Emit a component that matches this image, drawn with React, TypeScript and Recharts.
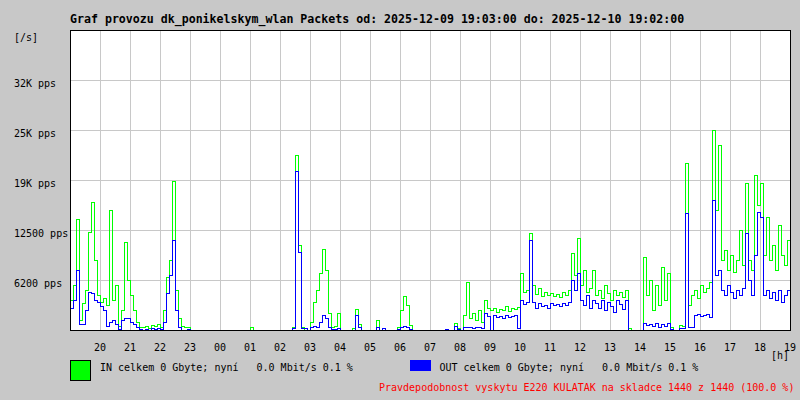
import React from 'react';
import { LineChart, Line, XAxis, YAxis, CartesianGrid, ReferenceArea } from 'recharts';

const TITLE = 'Graf provozu dk_ponikelskym_wlan Packets od: 2025-12-09 19:03:00 do: 2025-12-10 19:02:00';
const Y_UNIT = '[/s]';
const X_UNIT = '[h]';
const LEGEND_IN = 'IN celkem 0 Gbyte; nyní   0.0 Mbit/s 0.1 %';
const LEGEND_OUT = 'OUT celkem 0 Gbyte; nyní   0.0 Mbit/s 0.1 %';
const FOOTNOTE = 'Pravdepodobnost vyskytu E220 KULATAK na skladce 1440 z 1440 (100.0 %)';

const HOUR_LABELS = ['20', '21', '22', '23', '00', '01', '02', '03', '04', '05', '06', '07', '08', '09', '10', '11', '12', '13', '14', '15', '16', '17', '18', '19'];
const HOUR_TICKS = HOUR_LABELS.map((_, i) => (i + 1) * 60);
const Y_TICKS = [6250, 12500, 18750, 25000, 31250];
const Y_LABELS = ['6200 pps', '12500 pps', '19K pps', '25K pps', '32K pps'];
const Y_MAX = 37500;
const STEP_MIN = 6;

// packets per second, one sample every 6 minutes from 19:00
const IN_PPS = [
  3750, 5625, 13875, 1250, 3375, 5000, 12250, 16000, 8750, 4375,
  3500, 4000, 3125, 15000, 3750, 5625, 500, 2500, 11000, 6250,
  4375, 2500, 1000, 375, 375, 500, 250, 625, 500, 750,
  375, 2500, 6625, 8750, 18625, 5000, 1500, 500, 375, 375,
  0, 0, 0, 0, 0, 0, 0, 0, 0, 0,
  0, 0, 0, 0, 0, 0, 0, 0, 0, 0,
  375, 0, 0, 0, 0, 0, 0, 0, 0, 0,
  0, 0, 0, 0, 375, 21875, 10625, 375, 0, 0,
  1000, 3500, 5000, 7125, 10125, 7500, 2125, 375, 500, 2125,
  0, 0, 0, 0, 250, 2625, 750, 0, 0, 0,
  0, 0, 1250, 0, 0, 0, 0, 0, 0, 375,
  2500, 4250, 3125, 625, 0, 0, 0, 0, 0, 0,
  0, 0, 0, 0, 0, 125, 0, 0, 875, 250,
  0, 1875, 6000, 1500, 2125, 1250, 2500, 1000, 3750, 2750,
  2500, 2750, 2250, 2625, 2500, 3000, 2375, 2750, 2625, 2875,
  7125, 4750, 5000, 12125, 5625, 4500, 5250, 4250, 4750, 4375,
  4625, 4250, 4500, 4125, 4750, 4375, 5000, 9625, 6875, 11500,
  5625, 7500, 4750, 5250, 7500, 4375, 5000, 4000, 5625, 4625,
  3750, 5000, 4375, 4750, 4125, 5000, 250, 0, 0, 0,
  0, 9125, 4375, 6250, 2500, 5625, 3125, 7875, 3750, 7125,
  375, 0, 0, 625, 500, 20875, 3125, 4375, 5000, 4000,
  5625, 4750, 5250, 6000, 25000, 15000, 23125, 8750, 10000, 7500,
  9375, 7250, 8750, 12500, 8125, 18375, 8750, 7500, 19375, 15625,
  18375, 9375, 14125, 8750, 10625, 7500, 13125, 9375, 8125, 11250,
  10625,
];

const OUT_PPS = [
  2750, 3750, 7500, 750, 750, 2500, 4750, 4625, 3750, 3500,
  3000, 2500, 500, 1000, 1250, 750, 125, 1250, 1500, 1500,
  1000, 750, 375, 125, 0, 125, 0, 250, 125, 250,
  125, 1000, 4625, 6875, 11250, 2500, 375, 0, 0, 125,
  0, 0, 0, 0, 0, 0, 0, 0, 0, 0,
  0, 0, 0, 0, 0, 0, 0, 0, 0, 0,
  0, 0, 0, 0, 0, 0, 0, 0, 0, 0,
  0, 0, 0, 0, 250, 19875, 9750, 250, 250, 0,
  375, 500, 375, 1000, 1875, 1500, 375, 125, 125, 250,
  0, 0, 0, 0, 0, 1875, 375, 0, 0, 0,
  0, 0, 375, 0, 250, 0, 0, 0, 0, 125,
  375, 500, 375, 125, 0, 0, 0, 0, 0, 0,
  0, 0, 0, 0, 0, 125, 0, 0, 500, 125,
  0, 375, 375, 375, 250, 375, 375, 250, 2125, 1750,
  0, 1875, 1625, 1750, 1500, 1875, 1625, 1750, 1875, 250,
  3750, 3250, 3500, 11250, 3500, 2750, 3375, 3000, 3125, 2750,
  3375, 3125, 3250, 3000, 3375, 3125, 3500, 6250, 5000, 7125,
  3750, 3125, 4375, 2750, 3750, 3375, 2750, 3750, 2500, 3500,
  3000, 2250, 3750, 3250, 2625, 3750, 0, 0, 0, 0,
  0, 875, 625, 750, 500, 875, 375, 750, 500, 875,
  125, 0, 0, 250, 250, 14625, 375, 375, 1875, 2000,
  1750, 1875, 2000, 1625, 16250, 6875, 7500, 5000, 4375, 5625,
  4750, 4000, 5000, 4375, 5250, 12125, 6250, 4375, 9375, 14750,
  14125, 4375, 5000, 4000, 4750, 3750, 5000, 3500, 4375, 5000,
  5250,
];

const data = IN_PPS.map((v, i) => ({ t: i * STEP_MIN, inPps: v, outPps: OUT_PPS[i] }));

const FONT = '"DejaVu Sans Mono", "Liberation Mono", monospace';
const BG = '#c8c8c8';

const XTick = (props: any) => {
  const { x, payload } = props;
  const idx = HOUR_TICKS.indexOf(payload.value);
  return (
    <text x={x} y={351} textAnchor="middle" fontFamily={FONT} fontSize={10} fill="#000">
      {HOUR_LABELS[idx]}
    </text>
  );
};

const YTick = (props: any) => {
  const { y, payload } = props;
  const idx = Y_TICKS.indexOf(payload.value);
  return (
    <text x={14} y={y + 6.5} textAnchor="start" fontFamily={FONT} fontSize={10} fill="#000">
      {Y_LABELS[idx]}
    </text>
  );
};

export default function App() {
  return (
    <div style={{ position: 'absolute', left: 0, top: 0, width: 800, height: 400, background: BG }}>
      <div style={{ position: 'absolute', left: 0, top: 0, shapeRendering: 'crispEdges' } as any}>
        <LineChart width={800} height={400} data={data} margin={{ top: 30, right: 10, bottom: 0, left: 0 }}>
          <CartesianGrid stroke={BG} strokeWidth={1} fill="#ffffff" fillOpacity={1} />
          <XAxis
            dataKey="t"
            type="number"
            domain={[0, 1440]}
            ticks={HOUR_TICKS}
            interval={0}
            height={70}
            tick={XTick}
            tickLine={false}
            axisLine={{ stroke: '#000' }}
            allowDataOverflow
          />
          <YAxis
            type="number"
            domain={[0, Y_MAX]}
            ticks={Y_TICKS}
            interval={0}
            width={70}
            tick={YTick}
            tickLine={false}
            axisLine={{ stroke: '#000' }}
            allowDataOverflow
          />
          <Line type="stepAfter" dataKey="inPps" stroke="#00ff00" strokeWidth={1} dot={false} activeDot={false} isAnimationActive={false} />
          <Line type="stepAfter" dataKey="outPps" stroke="#0000ff" strokeWidth={1} dot={false} activeDot={false} isAnimationActive={false} />
          <ReferenceArea x1={0} x2={1440} y1={0} y2={Y_MAX} fill="none" fillOpacity={0} stroke="#000" strokeWidth={1} />
        </LineChart>
      </div>
      <svg width={800} height={400} style={{ position: 'absolute', left: 0, top: 0, pointerEvents: 'none' }}>
        <text x={70} y={23} fontFamily={FONT} fontSize={11.6} fontWeight="bold" fill="#000" style={{ whiteSpace: 'pre' }}>
          {TITLE}
        </text>
        <text x={14} y={41} fontFamily={FONT} fontSize={10} fill="#000">{Y_UNIT}</text>
        <text x={771} y={359} fontFamily={FONT} fontSize={10} fill="#000">{X_UNIT}</text>
        <rect x={70.5} y={360.5} width={20} height={20} fill="#00ff00" stroke="#000" strokeWidth={1} />
        <text x={100} y={371} fontFamily={FONT} fontSize={10} fill="#000" style={{ whiteSpace: 'pre' }}>{LEGEND_IN}</text>
        <rect x={410} y={360} width={21} height={11} fill="#0000ff" />
        <text x={439.5} y={371} fontFamily={FONT} fontSize={10} fill="#000" style={{ whiteSpace: 'pre' }}>{LEGEND_OUT}</text>
        <text x={379} y={391} fontFamily={FONT} fontSize={10} fill="#ff0000" style={{ whiteSpace: 'pre' }}>{FOOTNOTE}</text>
      </svg>
    </div>
  );
}
